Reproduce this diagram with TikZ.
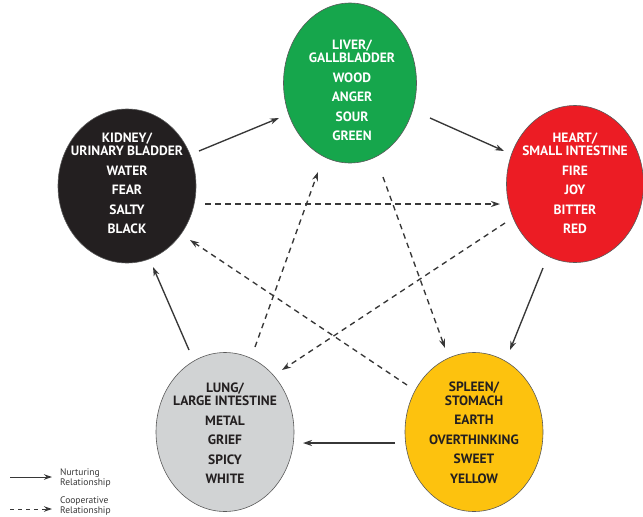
\documentclass[tikz,border=0pt]{standalone}
\usepackage{fontspec}
\setmainfont{PT Sans}
\usetikzlibrary{arrows.meta,calc,shapes.geometric}
\definecolor{cGreen}{RGB}{22,166,76}
\definecolor{cRed}{RGB}{236,28,36}
\definecolor{cYellow}{RGB}{253,194,14}
\definecolor{cGray}{RGB}{209,211,212}
\definecolor{cBlack}{RGB}{35,31,32}
\definecolor{cLine}{RGB}{55,55,55}
\tikzset{
  organ/.style={ellipse, draw=gray!70!black, line width=0.6pt, inner sep=0pt},
  txt/.style={align=center, font=\bfseries\fontsize{13.5}{13.5}\selectfont, inner sep=0pt},
  nurt/.style={draw=cLine, line width=1.35pt, -{Stealth[length=9pt,width=6pt]}},
  coop/.style={nurt, dash pattern=on 5.5pt off 4.5pt},
  legtxt/.style={align=left, anchor=west, font=\fontsize{9.5}{10}\selectfont, text=cLine, inner sep=0pt}
}
\begin{document}
\begin{tikzpicture}[x=1pt,y=-1pt]
\useasboundingbox (0,0) rectangle (643,517);
% organs
\node[organ, fill=cGreen, minimum width=133pt, minimum height=160pt] (liver) at (350,83) {};
\node[organ, fill=cBlack, minimum width=138pt, minimum height=154pt] (kidney) at (127,186) {};
\node[organ, fill=cRed, minimum width=137pt, minimum height=157pt] (heart) at (575,184) {};
\node[organ, fill=cGray, minimum width=138pt, minimum height=159pt] (lung) at (225,432) {};
\node[organ, fill=cYellow, minimum width=138pt, minimum height=159pt] (spleen) at (474,432) {};
% texts
\node[txt, text=white] (livert) at (352,90.5) {LIVER/\\GALLBLADDER\\[6pt]WOOD\\[6pt]ANGER\\[6pt]SOUR\\[6pt]GREEN};
\node[txt, text=white] (kidneyt) at (127,183.5) {KIDNEY/\\URINARY BLADDER\\[6pt]WATER\\[6pt]FEAR\\[6pt]SALTY\\[6pt]BLACK};
\node[txt, text=white] (heartt) at (575,183.5) {HEART/\\SMALL INTESTINE\\[6pt]FIRE\\[6pt]JOY\\[6pt]BITTER\\[6pt]RED};
\node[txt, text=cBlack] (lungt) at (225,433) {LUNG/\\LARGE INTESTINE\\[6pt]METAL\\[6pt]GRIEF\\[6pt]SPICY\\[6pt]WHITE};
\node[txt, text=cBlack] (spleent) at (474,433) {SPLEEN/\\STOMACH\\[6pt]EARTH\\[6pt]OVERTHINKING\\[6pt]SWEET\\[6pt]YELLOW};
% nurturing
\draw[nurt] ($(kidney)+(72,-35)$) -- ($(liver)+(-71,35)$);
\draw[nurt] ($(liver)+(80,35)$) -- ($(heart)+(-71,-33)$);
\draw[nurt] ($(heart)+(-32,84)$) -- ($(spleen)+(36,-82)$);
\draw[nurt] ($(spleen)+(-79,11)$) -- ($(lung)+(78,11)$);
\draw[nurt] ($(lung)+(-36,-82)$) -- ($(kidney)+(26,81)$);
% cooperative
\draw[coop] ($(kidney)+(78,18)$) -- ($(heart)+(-75,20)$);
\draw[coop] ($(liver)+(33,94)$) -- ($(spleen)+(-29,-84)$);
\draw[coop] ($(spleen)+(-67,-47)$) -- ($(kidney)+(63,54)$);
\draw[coop] ($(heart)+(-70,39)$) -- ($(lung)+(57,-62)$);
\draw[coop] ($(lung)+(30,-85)$) -- ($(liver)+(-32,89)$);
% legend
\coordinate (l1a) at (10,477);
\coordinate (l1b) at (52,477);
\coordinate (l2a) at (10,509);
\coordinate (l2b) at (52,509);
\draw[nurt, line width=1pt, -{Stealth[length=8pt,width=5.5pt]}] (l1a) -- (l1b);
\draw[coop, line width=1pt, dash pattern=on 4pt off 4pt, -{Stealth[length=8pt,width=5.5pt]}] (l2a) -- (l2b);
\node[legtxt] (leg1) at (60,478) {Nurturing\\Relationship};
\node[legtxt] (leg2) at (60,506) {Cooperative\\Relationship};
\end{tikzpicture}
\end{document}
